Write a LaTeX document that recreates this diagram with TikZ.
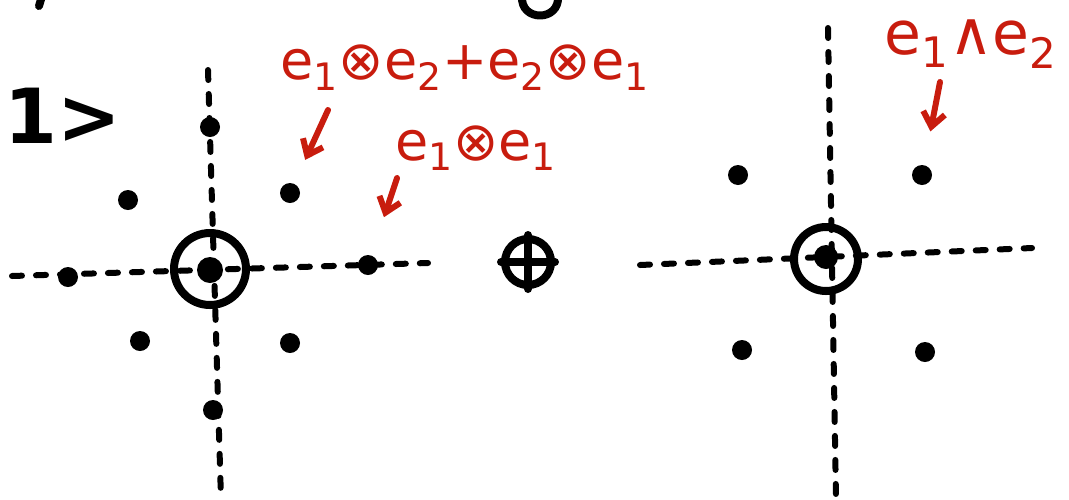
\documentclass[tikz,border=0pt]{standalone}
\usepackage{fontspec}
\newfontfamily\handfont{DejaVu Sans}
\usetikzlibrary{arrows.meta,calc}
\definecolor{pen}{RGB}{200,28,14}
\tikzset{
 axisline/.style={line width=3pt,dash pattern=on 5pt off 7pt,line cap=round},
 ink/.style={line width=4pt,line cap=round,line join=round},
 weight/.style={circle,fill,inner sep=0,minimum size=10pt},
 ring/.style={circle,draw,line width=4pt,inner sep=0},
 lbl/.style={text=pen,font=\handfont\fontsize{27}{27}\selectfont,inner sep=0},
 pointer/.style={draw=pen,line width=3pt,line cap=round,-{Straight Barb[length=7pt,width=11pt]}}
}

\begin{document}
\begin{tikzpicture}[x=0.5pt,y=-0.5pt]
\path[use as bounding box] (0,0) rectangle (1069,499);
\clip (0,0) rectangle (1069,499);
% cut-off strokes at the top edge
\draw[ink] (42,-4) -- (39,6);
\draw[ink] (522,-4) .. controls (520,22) and (560,22) .. (558,-4);
\node[font=\handfont\bfseries\fontsize{38}{38}\selectfont,anchor=west,inner sep=0] (ket) at (4,116) {1>};
% left diagram
\coordinate (La) at (208,70);
\coordinate (Lb) at (221,499);
\coordinate (Lc) at (12,276);
\coordinate (Ld) at (428,263);
\draw[axisline] (La) -- (Lb);
\draw[axisline] (Lc) -- (Ld);
\node[weight] (w1) at (210,127) {};
\node[weight] (w2) at (128,200) {};
\node[weight] (w3) at (290,193) {};
\node[weight] (w4) at (68,277) {};
\node[weight,minimum size=13pt] (w5) at (210,270) {};
\node[weight] (w6) at (368,265) {};
\node[weight] (w7) at (140,341) {};
\node[weight] (w8) at (290,343) {};
\node[weight] (w9) at (213,410) {};
\node[ring,minimum size=36pt] (r1) at (210,269) {};
% direct sum
\node[ring,minimum size=23pt] (dsum) at (528,262) {};
\draw[ink] (dsum.north) -- (dsum.south);
\draw[ink] (dsum.west) -- (dsum.east);
% right diagram
\coordinate (Ra) at (828,28);
\coordinate (Rb) at (836,499);
\coordinate (Rc) at (640,265);
\coordinate (Rd) at (1032,248);
\draw[axisline] (Ra) -- (Rb);
\draw[axisline] (Rc) -- (Rd);
\node[weight] (v1) at (738,175) {};
\node[weight] (v2) at (922,175) {};
\node[weight,minimum size=12pt] (v3) at (826,257) {};
\node[weight] (v4) at (742,350) {};
\node[weight] (v5) at (925,352) {};
\node[ring,minimum size=32pt] (r2) at (826,259) {};
% labels
\node[lbl] (sym) at (465,68) {e\textsubscript{1}⊗e\textsubscript{2}+e\textsubscript{2}⊗e\textsubscript{1}};
\node[lbl] (sq) at (476,148) {e\textsubscript{1}⊗e\textsubscript{1}};
\node[lbl,anchor=west,font=\handfont\fontsize{30}{30}\selectfont] (wedge) at (884,44) {e\textsubscript{1}∧e\textsubscript{2}};
\coordinate (t1) at (328,110);
\coordinate (t2) at (397,178);
\coordinate (t3) at (940,82);
\draw[pointer,shorten >=13pt] (t1) -- (w3);
\draw[pointer,shorten >=20pt] (t2) -- (w6);
\draw[pointer,shorten >=17pt] (t3) -- (v2);
\end{tikzpicture}
\end{document}
